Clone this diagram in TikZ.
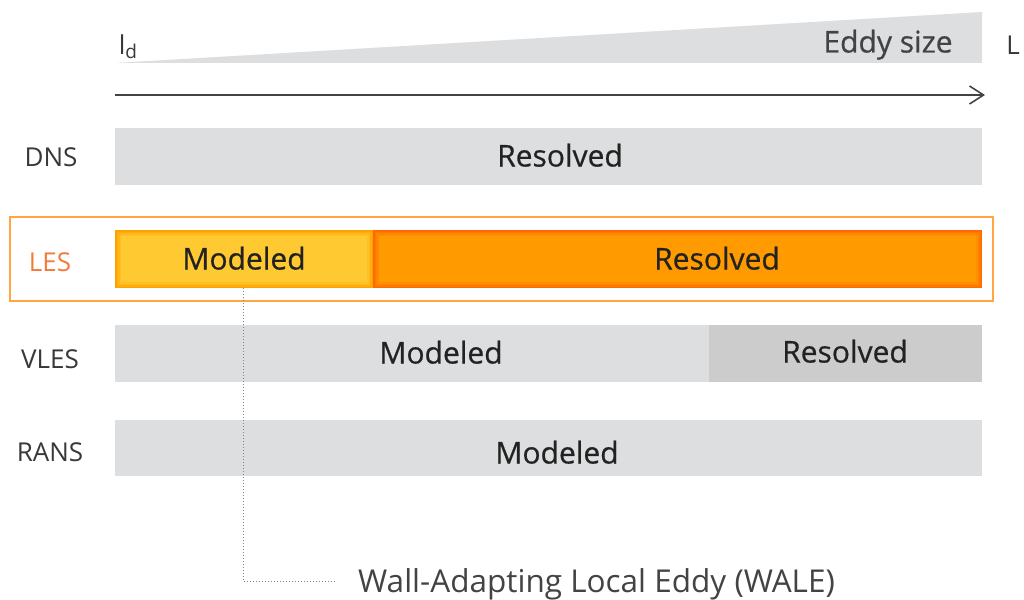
\documentclass[tikz,border=0pt]{standalone}
\usepackage{fontspec}
\setmainfont{Open Sans}
\newfontfamily\barfont[FakeBold=0.6]{Open Sans}
\usetikzlibrary{arrows.meta}

\definecolor{bargray}{HTML}{DCDEDF}
\definecolor{bardark}{HTML}{CCCCCC}
\definecolor{lesorange}{HTML}{F47B3A}
\definecolor{frameorange}{HTML}{FFA640}
\definecolor{modyellow}{HTML}{FFC932}
\definecolor{modedge}{HTML}{FFA200}
\definecolor{resorange}{HTML}{FF9A00}
\definecolor{resedge}{HTML}{FF6A00}
\definecolor{ink}{HTML}{222222}

\tikzset{
  rowlabel/.style={font=\fontsize{26}{30}\selectfont, text=ink!90, inner sep=0pt,
    text height=18.5pt, text depth=0pt},
  bartext/.style={font=\barfont\fontsize{30}{36}\selectfont, text=ink, inner sep=0pt,
    text height=21pt, text depth=0pt},
}

% soft inner glow: #1 edge colour, #2 inner colour, #3 and #4 corners
\newcommand{\glowbar}[4]{%
  \foreach \k/\m in {0/0,1.5/30,3/55,4.5/80,6/100}
    \fill[#2!\m!#1] ($#3+(\k,\k)$) rectangle ($#4+(-\k,-\k)$);
}
\usetikzlibrary{calc}

\begin{document}
\begin{tikzpicture}[x=1pt,y=-1pt]
\useasboundingbox (0,0) rectangle (1024,599);

% eddy size wedge and axis
\fill[bargray] (115,63) -- (982,63) -- (982,12) -- cycle;
\node[bartext, text=ink!85] (eddy) at (888,42) {Eddy size};
\node[rowlabel] (ld) at (128,45) {l\raisebox{-4pt}{\fontsize{19}{20}\selectfont d}};
\node[rowlabel] (bigL) at (1013,45) {L};
\coordinate (axis start) at (115,95);
\coordinate (axis end) at (985,95);
\draw[ink!85, line width=1.6pt, -{Straight Barb[length=14pt,width=18pt]}] (axis start) -- (axis end);

% DNS
\fill[bargray] (115,128) rectangle (982,185);
\node[bartext] (dns res) at (560,156) {Resolved};
\node[rowlabel] (dns) at (51,157) {DNS};

% LES
\draw[frameorange, line width=2pt] (10,217) rectangle (993,301);
\glowbar{modedge}{modyellow}{(115,230)}{(373,288)}
\glowbar{resedge}{resorange}{(373,230)}{(982,288)}
\node[bartext] (les mod) at (244,259) {Modeled};
\node[bartext] (les res) at (717,259) {Resolved};
\node[rowlabel, text=lesorange] (les) at (50,262) {LES};
\coordinate (wale start) at (243,288);

% VLES
\fill[bargray] (115,325) rectangle (709,382);
\fill[bardark] (709,325) rectangle (982,382);
\node[bartext] (vles mod) at (441,353) {Modeled};
\node[bartext] (vles res) at (845,352) {Resolved};
\node[rowlabel] (vles) at (50,359) {VLES};

% RANS
\fill[bargray] (115,420) rectangle (982,476);
\node[bartext] (rans mod) at (557,453) {Modeled};
\node[rowlabel] (rans) at (50,452) {RANS};

% WALE
\node[font=\fontsize{31.5}{38}\selectfont, text=ink!85, inner sep=0pt, text height=22.5pt,
  text depth=0pt, anchor=west] (wale) at (358,581) {Wall-Adapting Local Eddy (WALE)};
\draw[gray, dotted, line width=1pt, shorten >=23pt] (wale start) |- (wale.west);
\end{tikzpicture}
\end{document}
